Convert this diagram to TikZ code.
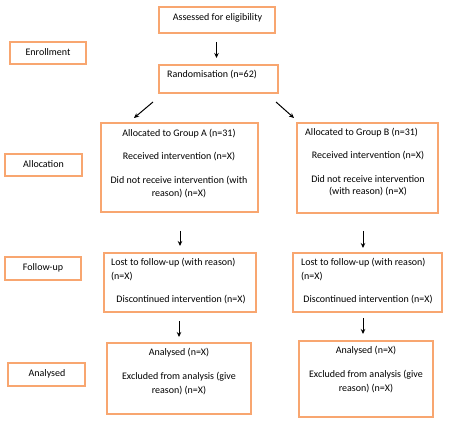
\documentclass[tikz,border=0pt]{standalone}
\usepackage{fontspec}
\setmainfont{Carlito}
\usetikzlibrary{arrows.meta}
\definecolor{boxorange}{RGB}{248,166,112}
\tikzset{
  box/.style={draw=boxorange, line width=1.5pt, fill=white, inner sep=0pt, rectangle},
  txt/.style={inner sep=0pt, font=\fontsize{10}{12}\selectfont, text=black},
  arr/.style={line width=1pt, -{Stealth[length=5pt,width=4.5pt]}}
}
\begin{document}
\begin{tikzpicture}[x=1pt,y=-1pt]
\useasboundingbox[fill=white] (0,0) rectangle (450,422);
% boxes
\node[box, minimum width=116pt, minimum height=26pt] (assess) at (217,20) {};
\node[box, minimum width=76pt, minimum height=22pt] (enroll) at (48,53) {};
\node[box, minimum width=119pt, minimum height=28pt] (rand) at (218.5,79) {};
\node[box, minimum width=157pt, minimum height=89pt] (grpA) at (179.5,167.5) {};
\node[box, minimum width=141pt, minimum height=90pt] (grpB) at (367.5,168) {};
\node[box, minimum width=77pt, minimum height=22pt] (alloc) at (43.5,165) {};
\node[box, minimum width=152pt, minimum height=59pt] (fuA) at (180,282.5) {};
\node[box, minimum width=149pt, minimum height=59pt] (fuB) at (367.5,282.5) {};
\node[box, minimum width=76pt, minimum height=23pt] (fulab) at (43,268.5) {};
\node[box, minimum width=144pt, minimum height=71pt] (anA) at (179,378.5) {};
\node[box, minimum width=134pt, minimum height=76pt] (anB) at (366,379) {};
\node[box, minimum width=77pt, minimum height=23pt] (anlab) at (46.5,374.5) {};
% texts
\node[txt] (t1) at (217.5,18) {Assessed for eligibility};
\node[txt] (t2) at (48,52) {Enrollment};
\node[txt, anchor=west] (t3) at (167,75) {Randomisation (n=62)};
\node[txt] (t4) at (43.5,164) {Allocation};
\node[txt] (a1) at (179,134) {Allocated to Group A (n=31)};
\node[txt] (a2) at (179,157) {Received intervention (n=X)};
\node[txt] (a3) at (179,181) {Did not receive intervention (with};
\node[txt] (a4) at (179,194) {reason) (n=X)};
\node[txt, anchor=west] (b1) at (305,133) {Allocated to Group B (n=31)};
\node[txt] (b2) at (368,156) {Received intervention (n=X)};
\node[txt] (b3) at (368,179) {Did not receive intervention};
\node[txt] (b4) at (368,192) {(with reason) (n=X)};
\node[txt] (t5) at (43,268) {Follow-up};
\node[txt, anchor=west] (fa1) at (111,263) {Lost to follow-up (with reason)};
\node[txt, anchor=west] (fa2) at (111,277) {(n=X)};
\node[txt] (fa3) at (181,300) {Discontinued intervention (n=X)};
\node[txt, anchor=west] (fb1) at (301,263) {Lost to follow-up (with reason)};
\node[txt, anchor=west] (fb2) at (301,277) {(n=X)};
\node[txt] (fb3) at (368,300) {Discontinued intervention (n=X)};
\node[txt] (t6) at (47,374) {Analysed};
\node[txt] (na1) at (179,353) {Analysed (n=X)};
\node[txt] (na2) at (179,377) {Excluded from analysis (give};
\node[txt] (na3) at (179,391) {reason) (n=X)};
\node[txt] (nb1) at (366,351) {Analysed (n=X)};
\node[txt] (nb2) at (366,375) {Excluded from analysis (give};
\node[txt] (nb3) at (366,389) {reason) (n=X)};
% arrow end points
\coordinate (p1s) at (216.5,42); \coordinate (p1e) at (216.5,58);
\coordinate (p2s) at (153,102); \coordinate (p2e) at (134,118);
\coordinate (p3s) at (276,102); \coordinate (p3e) at (294,118);
\coordinate (p4s) at (180,231); \coordinate (p4e) at (180,246);
\coordinate (p5s) at (363,231); \coordinate (p5e) at (363,248);
\coordinate (p6s) at (179,321); \coordinate (p6e) at (179,337);
\coordinate (p7s) at (363,318); \coordinate (p7e) at (363,334);
\draw[arr] (p1s) -- (p1e);
\draw[arr] (p2s) -- (p2e);
\draw[arr] (p3s) -- (p3e);
\draw[arr] (p4s) -- (p4e);
\draw[arr] (p5s) -- (p5e);
\draw[arr] (p6s) -- (p6e);
\draw[arr] (p7s) -- (p7e);
\end{tikzpicture}
\end{document}
